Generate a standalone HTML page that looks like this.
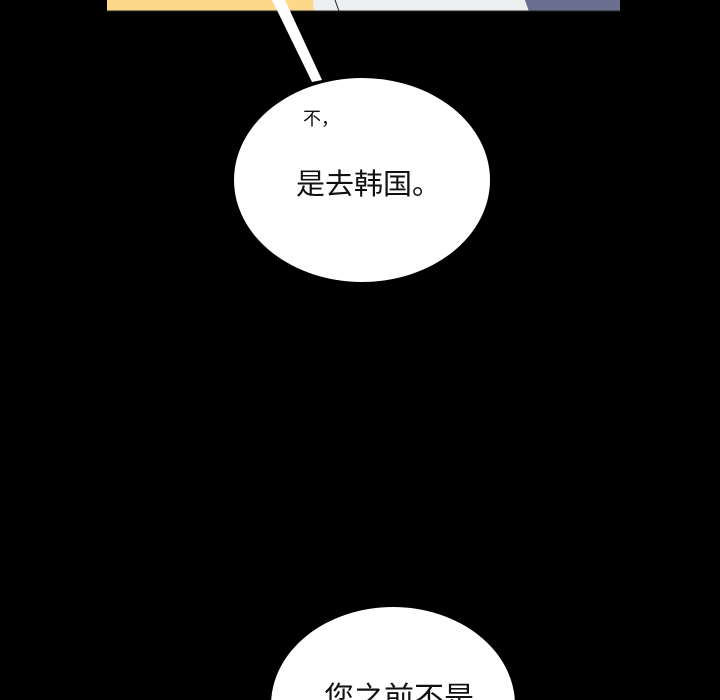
<!DOCTYPE html>
<html><head><meta charset="utf-8"><style>
html,body{margin:0;padding:0;background:#000;width:720px;height:700px;overflow:hidden}
</style></head><body>
<svg width="720" height="700" viewBox="0 0 720 700" xmlns="http://www.w3.org/2000/svg" style="display:block">
<rect width="720" height="700" fill="#000"/>
<rect x="107" y="0" width="210" height="11" fill="#fcd98a"/>
<polygon points="313,0 525,0 529,11 314,11" fill="#eceef0"/>
<polygon points="525,0 620,0 620,11 529,11" fill="#6c7090"/>
<line x1="335" y1="0" x2="339" y2="11" stroke="#222" stroke-width="1"/>
<line x1="107" y1="11" x2="620" y2="11" stroke="#222" stroke-width="1"/>
<polygon points="272,0 285,0 322,80 312,82" fill="#fff"/>
<ellipse cx="362" cy="180" rx="128" ry="102" fill="#fff"/>
<ellipse cx="393" cy="705" rx="122" ry="98" fill="#fff"/>
<text x="303" y="125" font-family="Liberation Sans, Noto Sans CJK SC, sans-serif" font-size="18" fill="#111">不，</text>
<text x="296" y="194" font-family="Liberation Sans, Noto Sans CJK SC, sans-serif" font-size="29" fill="#111">是去韩国。</text>
<text x="324" y="708" font-family="Liberation Sans, Noto Sans CJK SC, sans-serif" font-size="30" fill="#111">您之前不是</text>
</svg>
</body></html>
